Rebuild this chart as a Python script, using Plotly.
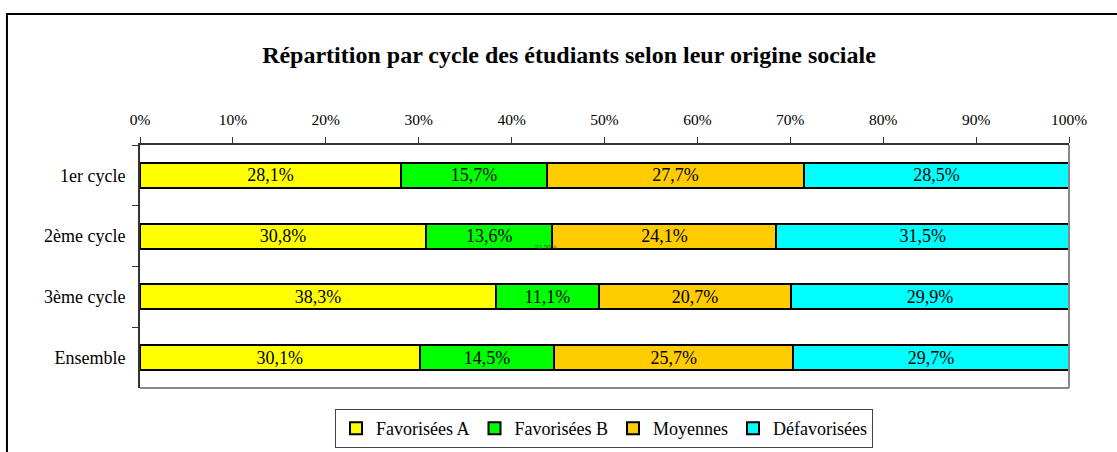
import plotly.graph_objects as go

# ── Data ─────────────────────────────────────────────────────────────────────
cycles = ["1er cycle", "2ème cycle", "3ème cycle", "Ensemble"]
favorisees_a = [28.1, 30.8, 38.3, 30.1]
favorisees_b = [15.7, 13.6, 11.1, 14.5]
moyennes = [27.7, 24.1, 20.7, 25.7]
defavorisees = [28.5, 31.5, 29.9, 29.7]

series = [
    ("Favorisées A", favorisees_a, "#FFFF00"),
    ("Favorisées B", favorisees_b, "#00FF00"),
    ("Moyennes", moyennes, "#FFCC00"),
    ("Défavorisées", defavorisees, "#00FFFF"),
]

tick_vals = [0, 10, 20, 30, 40, 50, 60, 70, 80, 90, 100]
tick_text = [f"{v}%" for v in tick_vals]

FONT = "Times New Roman, Liberation Serif, DejaVu Serif, serif"

fig = go.Figure()
for name, vals, color in series:
    fig.add_bar(
        y=cycles,
        x=vals,
        name=name,
        orientation="h",
        width=0.41,
        marker=dict(color=color, line=dict(color="black", width=2)),
        texttemplate="%{x:.1f}%",
        textposition="inside",
        insidetextanchor="middle",
        constraintext="none",
        textfont=dict(family=FONT, size=18, color="black"),
    )

# stray label left over in the source chart
fig.add_annotation(
    x=43.7, y="2ème cycle", yshift=-11, text="52,50%", showarrow=False,
    font=dict(family=FONT, size=7, color="#444"),
)

fig.update_layout(
    width=1117,
    height=452,
    margin=dict(t=145, b=64, l=140, r=48, autoexpand=False),
    barmode="stack",
    separators=", ",
    paper_bgcolor="white",
    plot_bgcolor="white",
    font=dict(family=FONT, size=18, color="black"),
    title=dict(
        text="<b>Répartition par cycle des étudiants selon leur origine sociale</b>",
        x=569 / 1117, xref="container", xanchor="center",
        y=0.88, yref="container", yanchor="middle",
        font=dict(family=FONT, size=24, color="black"),
    ),
    xaxis=dict(
        side="top",
        range=[0, 100],
        tickvals=tick_vals,
        ticktext=tick_text,
        ticks="outside",
        ticklen=6,
        tickcolor="#333",
        showgrid=False,
        zeroline=False,
        showline=True,
        linecolor="#333",
        linewidth=2,
        tickfont=dict(family=FONT, size=15.5),
        ticklabelstandoff=6,
    ),
    yaxis=dict(
        autorange="reversed",
        ticks="outside",
        tickson="boundaries",
        ticklen=6,
        tickcolor="#333",
        showgrid=False,
        showline=True,
        linecolor="#333",
        linewidth=2,
        tickfont=dict(family=FONT, size=18),
        ticklabelstandoff=9,
    ),
    legend=dict(
        orientation="h",
        x=604 / 929 - 140 / 929, xanchor="center",
        y=-0.0864, yanchor="top",
        bordercolor="#444",
        borderwidth=1,
        font=dict(family=FONT, size=18),
        traceorder="normal",
    ),
    shapes=[
        # outer chart frame
        dict(type="rect", xref="paper", yref="paper",
             x0=-0.1432, x1=1.2, y0=-0.6, y1=1.539,
             line=dict(color="black", width=2), layer="below"),
        # grey right / bottom border of the plot area
        dict(type="line", xref="x domain", yref="y domain",
             x0=1, x1=1, y0=0, y1=1, line=dict(color="#888", width=2)),
        dict(type="line", xref="x domain", yref="y domain",
             x0=0, x1=1, y0=0, y1=0, line=dict(color="#888", width=2)),
    ],
)

fig.write_html(
    "out.html",
    config={"displayModeBar": False},
    post_script="document.body.style.margin = '0';",
)
